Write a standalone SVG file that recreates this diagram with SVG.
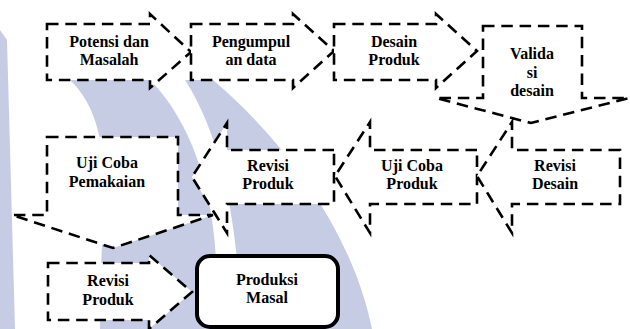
<svg xmlns="http://www.w3.org/2000/svg" width="630" height="329" viewBox="0 0 630 329">
<style>
.wm{fill:#c7cce5}
.sh{fill:#fff;stroke:#000;stroke-width:2.6;stroke-dasharray:11.5 6.8;stroke-linejoin:miter}
.pm{fill:#fff;stroke:#000;stroke-width:4}
</style>
<rect width="630" height="329" fill="#fff"/>
<g id="watermark">
<path class="wm" d="M0,30 L7,40 L15,329 L0,329 Z"/>
<path class="wm" d="M70,80 L150,80 C190,120 225,200 215,329 L100,329 C98,220 122,130 70,80 Z"/>
<path class="wm" d="M185,80 L213,80 C270,128 350,220 372,329 L242,329 C238,250 230,150 185,80 Z"/>
</g>
<g id="connectors"></g>
<g font-family="Liberation Serif, serif" font-weight="700" font-size="16" text-anchor="middle" fill="#000">
<g id="potensi-masalah">
<path class="sh" d="M47,24 H150 V14 L191,52 L150,88 V80 H47 Z"/>
<text x="109" y="46.5">Potensi dan</text>
<text x="109" y="65">Masalah</text>
</g>
<g id="pengumpulan-data">
<path class="sh" d="M191,24 H293 V14 L334,51 L293,88 V80 H191 Z"/>
<text x="251" y="46.5">Pengumpul</text>
<text x="251" y="65">an data</text>
</g>
<g id="desain-produk">
<path class="sh" d="M334,24 H436 V14 L477,51 L436,88 V80 H334 Z"/>
<text x="394" y="46.5">Desain</text>
<text x="394" y="65">Produk</text>
</g>
<g id="validasi-desain">
<path class="sh" d="M483,26 H582 V98 H629 L531,123 L436,98 H483 Z"/>
<text x="532" y="59">Valida</text>
<text x="532" y="78">si</text>
<text x="532" y="96">desain</text>
</g>
<g id="uji-coba-pemakaian">
<path class="sh" d="M47,137 H178 V215 H213 L113,248 L12,215 H47 Z"/>
<text x="107" y="168">Uji Coba</text>
<text x="107" y="187">Pemakaian</text>
</g>
<g id="revisi-produk-1">
<path class="sh" d="M334,150 H227 V123 L192,177 L227,233 V204 H334 Z"/>
<text x="268" y="170.5">Revisi</text>
<text x="268" y="189">Produk</text>
</g>
<g id="uji-coba-produk">
<path class="sh" d="M477,150 H370 V122 L335,176 L370,233 V204 H477 Z"/>
<text x="412" y="170.5">Uji Coba</text>
<text x="412" y="189">Produk</text>
</g>
<g id="revisi-desain">
<path class="sh" d="M620,150 H512 V122 L477,176 L512,233 V204 H620 Z"/>
<text x="555" y="170.5">Revisi</text>
<text x="555" y="189">Desain</text>
</g>
<g id="revisi-produk-2">
<path class="sh" d="M48,263 H149 V255 L192,292 L149,329 V320 H48 Z"/>
<text x="108" y="286">Revisi</text>
<text x="108" y="305">Produk</text>
</g>
<g id="produksi-masal">
<rect class="pm" x="197" y="256" width="141" height="71" rx="13"/>
<text x="267" y="284.5">Produksi</text>
<text x="267" y="303">Masal</text>
</g>
</g>
</svg>
